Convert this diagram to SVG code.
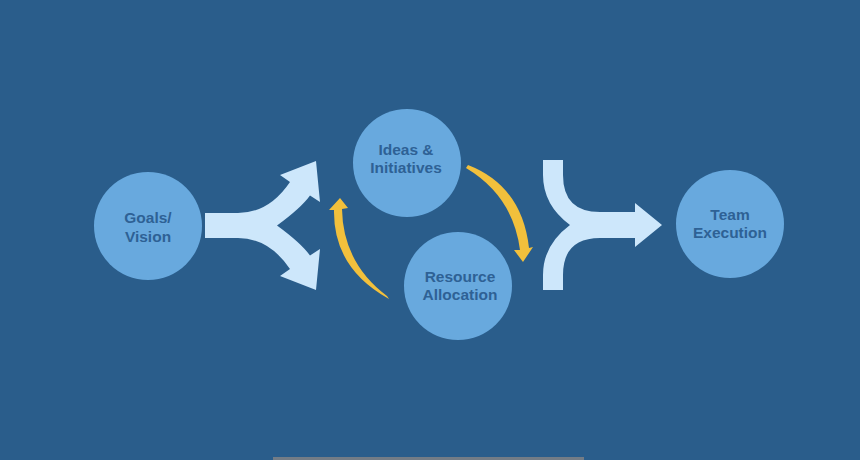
<svg xmlns="http://www.w3.org/2000/svg" width="860" height="460" viewBox="0 0 860 460">
<style>
.node circle{fill:#68A9DE}
.node text{font-family:"Liberation Sans",Arial,sans-serif;font-weight:bold;font-size:15.5px;fill:#2E6195;text-anchor:middle}
.big{fill:#CDE7FB}
.cyc{fill:#F2C03C}
</style>
<rect width="860" height="460" fill="#2A5D8B"/>
<rect x="273" y="457" width="311" height="3" fill="#737C86"/>
<g id="connectors">
<path id="split" class="big" d="M205,213 L238,213 Q269,213 290,182 L280,175 L316,161 L320,202 L310,195.5 Q301,208 277,225.5 Q301,243 310,255.5 L320,249 L316,290 L280,276 L290,269 Q269,238 238,238 L205,238 Z"/>
<path id="merge" class="big" d="M543,160 L563,160 L563,175 Q563,212 600,212 L635,212 L635,203 L662,225 L635,247 L635,238 L600,238 Q563,238 563,275 L563,290 L543,290 L543,275 Q543,245 570,225 Q543,205 543,175 Z"/>
<path id="cycle1" class="cyc" d="M468,165 Q522,186 529,248 L533,247 L523,262 L514,250 L520,250 Q513,196 466,168 Z"/>
<path id="cycle2" class="cyc" d="M389,299 Q333,268 334,210 L329,210 L340,198 L348,208 L342,209 Q343,263 387,296 Z"/>
</g>
<g id="goals" class="node"><circle cx="148" cy="226" r="54"/><text x="148" y="223">Goals/</text><text x="148" y="242">Vision</text></g>
<g id="ideas" class="node"><circle cx="407" cy="163" r="54"/><text x="406" y="155">Ideas &amp;</text><text x="406" y="173">Initiatives</text></g>
<g id="resource" class="node"><circle cx="458" cy="286" r="54"/><text x="460" y="282">Resource</text><text x="460" y="300">Allocation</text></g>
<g id="team" class="node"><circle cx="730" cy="224" r="54"/><text x="730" y="220">Team</text><text x="730" y="238">Execution</text></g>
</svg>
